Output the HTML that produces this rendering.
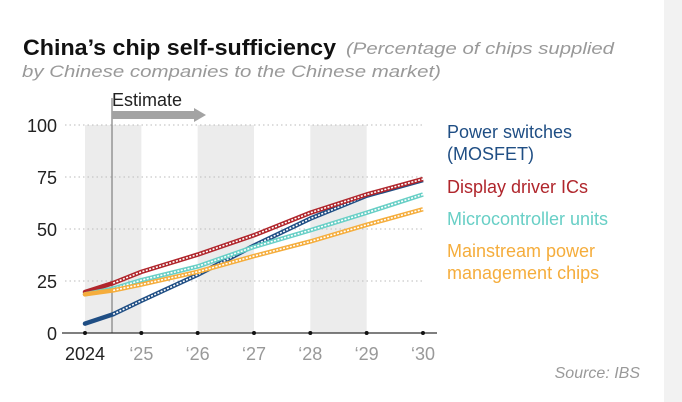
<!DOCTYPE html>
<html><head><meta charset="utf-8">
<style>
body{margin:0;width:682px;height:402px;background:#fff;overflow:hidden;font-family:"Liberation Sans",sans-serif;position:relative}
#edge{position:absolute;left:664px;top:0;width:18px;height:402px;background:#f2f2f2}
</style></head><body>
<div id="edge"></div>
<svg width="682" height="402" style="position:absolute;left:0;top:0">
<text x="23" y="55" font-size="22" font-weight="bold" fill="#111" textLength="313" lengthAdjust="spacingAndGlyphs">China’s chip self-sufficiency</text>
<text x="346" y="54" font-size="17" font-style="italic" fill="#999" textLength="268" lengthAdjust="spacingAndGlyphs">(Percentage of chips supplied</text>
<text x="22" y="77" font-size="17" font-style="italic" fill="#999" textLength="419" lengthAdjust="spacingAndGlyphs">by Chinese companies to the Chinese market)</text>
<g id="bands"></g><g id="grid"></g>
<line x1="112" y1="98" x2="112" y2="333" stroke="#888" stroke-width="1.3"/>
<text x="112" y="106" font-size="18" fill="#222">Estimate</text>
<polygon points="112,111 194,111 194,108 206,115 194,122 194,119 112,119" fill="#a3a3a3"/>
<g id="axes"></g><g id="lines"></g><g id="legend"></g>
<text x="640" y="378" font-size="16" font-style="italic" fill="#999" text-anchor="end">Source: IBS</text>
</svg>
<script>
const years=[2024,2024.5,2025,2026,2027,2028,2029,2030];
const power=[4.5,9,15.5,28,42,55,66,73.5];
const display=[19.7,24,29.4,37.7,47,57.8,66.6,74];
const mcu=[18.6,21.3,25.4,32,41.4,49.4,57.8,66.6];
const mainstream=[18.6,20.5,23.3,29.4,37,44,52,59.5];
const yTicks=[0,25,50,75,100];
const xTicks=[2024,2025,2026,2027,2028,2029,2030];
const xLabels=["2024","‘25","‘26","‘27","‘28","‘29","‘30"];
const bandStarts=[2024,2026,2028];
const series=[["power-switches",power,"#1f4e84",["Power switches","(MOSFET)"]],["display-driver-ics",display,"#b0262c",["Display driver ICs"]],["microcontroller-units",mcu,"#68cfc6",["Microcontroller units"]],["mainstream-power-chips",mainstream,"#f5ad3c",["Mainstream power","management chips"]]];
const NS="http://www.w3.org/2000/svg";
const X=v=>85+(v-2024)*56.33, Y=v=>333-v*2.08;
function mk(t,a,p){const e=document.createElementNS(NS,t);for(const k in a)e.setAttribute(k,a[k]);document.getElementById(p).appendChild(e);return e;}
bandStarts.forEach(b=>{const r=mk('rect',{x:X(b),y:Y(100),width:X(b+1)-X(b),height:Y(0)-Y(100),fill:'#ececec'},'bands');

});
yTicks.forEach(t=>{if(t>0){const l=mk('line',{x1:65,x2:425,y1:Y(t),y2:Y(t),stroke:'#bbb','stroke-dasharray':'1.5 3'},'grid');

}
const tx=mk('text',{x:57,y:Y(t)+7,'font-size':18,fill:'#222','text-anchor':'end'},'axes');tx.textContent=t;

});
const ax=mk('line',{x1:62,x2:437,y1:Y(0),y2:Y(0),stroke:'#333','stroke-width':1.3},'axes');


xTicks.forEach((t,i)=>{const c=mk('circle',{cx:X(t),cy:Y(0),r:2,fill:'#111'},'axes');


const tx=mk('text',{x:X(t),y:Y(0)+27,'font-size':18,fill:i==0?'#222':'#999','text-anchor':'middle'},'axes');tx.textContent=xLabels[i];

});
series.forEach(([n,d,col,lab],si)=>{
const pts=years.map((y,i)=>X(y)+','+Y(d[i]));
const solid=mk('polyline',{points:pts.slice(0,2).join(' '),fill:'none',stroke:col,'stroke-width':4.5,'stroke-linecap':'round'},'lines');


const est=mk('polyline',{points:pts.slice(1).join(' '),fill:'none',stroke:col,'stroke-width':4.5,'stroke-linejoin':'round'},'lines');


const ov=mk('polyline',{points:pts.slice(1).join(' '),fill:'none',stroke:'#fff','stroke-width':1.6,'stroke-dasharray':'2 1.5'},'lines');


const ly=[138,193,225,257][si];
lab.forEach((s,j)=>{const tx=mk('text',{x:447,y:ly+j*22,'font-size':18,fill:col},'legend');tx.textContent=s;

});});
</script>
</body></html>
